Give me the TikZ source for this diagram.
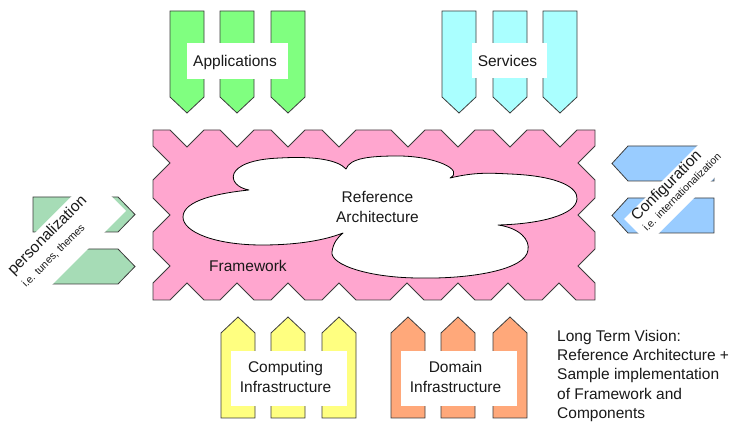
\documentclass[tikz,border=0pt]{standalone}
\usepackage{fontspec}
\setmainfont{Liberation Sans}
\definecolor{framepink}{RGB}{255,166,207}
\definecolor{appgreen}{RGB}{128,255,128}
\definecolor{servcyan}{RGB}{170,255,255}
\definecolor{compyellow}{RGB}{255,255,128}
\definecolor{domorange}{RGB}{255,168,122}
\definecolor{persgreen}{RGB}{166,220,182}
\definecolor{confblue}{RGB}{153,204,255}
\definecolor{edgegray}{RGB}{60,60,60}
\tikzset{
  outl/.style={draw=edgegray, line width=0.8pt, line join=miter},
  cloudline/.style={draw=black, line width=0.8pt, line join=round},
  lbl/.style={font=\fontsize{15.5}{20}\selectfont, inner sep=0pt, text=black!90},
  smalltxt/.style={font=\fontsize{10.5}{12}\selectfont, inner sep=0pt, text=black!90},
  labelbox/.style={fill=white, draw=none, inner sep=0pt},
}
\begin{document}
\begin{tikzpicture}[x=1pt, y=-1pt]
\useasboundingbox (0,0) rectangle (732,427);

% ---------- Framework (pink zig-zag block) ----------
\draw[outl, fill=framepink]
  (153,130) -- (170,130) -- (187,147) -- (204,130) -- (220,130) -- (237,147) -- (254,130)
  -- (271,130) -- (288,147) -- (305,130) -- (322,130) -- (339,147) -- (356,130)
  -- (391,130) -- (408,147) -- (425,130) -- (441,130) -- (458,147) -- (475,130)
  -- (493,130) -- (510,147) -- (527,130) -- (543,130) -- (560,147) -- (577,130) -- (595,130)
  -- (595,146) -- (578,163) -- (595,180) -- (595,198) -- (578,215) -- (595,232)
  -- (595,249) -- (578,266) -- (595,283) -- (595,300)
  -- (576,300) -- (559,283) -- (542,300) -- (525,300) -- (508,283) -- (491,300)
  -- (475,300) -- (458,283) -- (441,300) -- (424,300) -- (407,283) -- (390,300)
  -- (356,300) -- (339,283) -- (322,300) -- (305,300) -- (288,283) -- (271,300)
  -- (254,300) -- (237,283) -- (220,300) -- (204,300) -- (187,283) -- (170,300) -- (153,300)
  -- (153,283) -- (170,266) -- (153,249) -- (153,232) -- (170,215) -- (153,198)
  -- (153,180) -- (170,163) -- (153,146) -- cycle;

% ---------- Reference architecture cloud ----------
\draw[cloudline, fill=white] (249,190)
  .. controls (226,186) and (222,160) .. (280,158)
  .. controls (315,156) and (338,160) .. (346,169)
  .. controls (350,158) and (370,156) .. (398,156)
  .. controls (435,156) and (465,170) .. (450,178)
  .. controls (475,172) and (490,173) .. (510,174)
  .. controls (560,176) and (578,188) .. (577,199)
  .. controls (576,215) and (540,224) .. (498,225)
  .. controls (520,228) and (530,240) .. (528,250)
  .. controls (526,270) and (470,279) .. (420,278)
  .. controls (370,278) and (330,265) .. (332,252)
  .. controls (333,243) and (338,237) .. (343,233)
  .. controls (320,242) and (290,245) .. (262,245)
  .. controls (215,245) and (183,232) .. (183,217)
  .. controls (183,200) and (220,193) .. (249,190) -- cycle;
\node[lbl, anchor=base] (ref1) at (377.5,203) {Reference};
\node[lbl, anchor=base] (ref2) at (377.5,223) {Architecture};
\node[lbl, anchor=base] (fw) at (248,272) {Framework};

% ---------- Applications (top, green) ----------
\foreach \L in {170,220,271}
  \draw[outl, fill=appgreen] (\L,11) -- ++(34,0) -- ++(0,86) -- ++(-17,16) -- ++(-17,-16) -- cycle;
\node[labelbox, minimum width=101.6pt, minimum height=36pt] (appbox) at (237.5,61) {};
\node[lbl, anchor=base] (app) at (235,67) {Applications};

% ---------- Services (top, cyan) ----------
\foreach \L in {442,493,543}
  \draw[outl, fill=servcyan] (\L,11) -- ++(34,0) -- ++(0,86) -- ++(-17,16) -- ++(-17,-16) -- cycle;
\node[labelbox, minimum width=75pt, minimum height=35pt] (servbox) at (509.2,60.5) {};
\node[lbl, anchor=base] (serv) at (507.5,67) {Services};

% ---------- Computing infrastructure (bottom, yellow) ----------
\foreach \L in {221,271,322}
  \draw[outl, fill=compyellow] (\L,418) -- ++(0,-85) -- ++(17,-16) -- ++(17,16) -- ++(0,85) -- cycle;
\node[labelbox, minimum width=115.7pt, minimum height=54.7pt] (compbox) at (288.8,378.3) {};
\node[lbl, anchor=base] (comp1) at (285.5,373) {Computing};
\node[lbl, anchor=base] (comp2) at (285.5,393) {Infrastructure};

% ---------- Domain infrastructure (bottom, orange) ----------
\foreach \L in {391,441,493}
  \draw[outl, fill=domorange] (\L,418) -- ++(0,-85) -- ++(17,-16) -- ++(17,16) -- ++(0,85) -- cycle;
\node[labelbox, minimum width=115.7pt, minimum height=54.7pt] (dombox) at (458.8,378.3) {};
\node[lbl, anchor=base] (dom1) at (455.5,373) {Domain};
\node[lbl, anchor=base] (dom2) at (455.5,393) {Infrastructure};

% ---------- Personalization (left, green) ----------
\foreach \T in {197,249}
  \draw[outl, fill=persgreen] (33,\T) -- ++(85,0) -- ++(17,17.5) -- ++(-17,17.5) -- ++(-85,0) -- cycle;
\fill[white] (91.5,176.5) -- (126,211) -- (8.5,328.5) -- (-26,294) -- cycle;
\node[lbl, anchor=base west, rotate=45] (pers) at (13.5,275.5) {personalization};
\node[smalltxt, anchor=base west, rotate=45] (persnote) at (26,288) {i.e. tunes, themes};

% ---------- Configuration (right, blue) ----------
\foreach \T in {146,198}
  \draw[outl, fill=confblue] (714,\T) -- ++(-86,0) -- ++(-16,17.5) -- ++(16,17.5) -- ++(86,0) -- cycle;
\fill[white] (624,219) -- (648.5,243.5) -- (796,96) -- (771.5,71.5) -- cycle;
\node[lbl, anchor=base west, rotate=45] (conf) at (637,222) {Configuration};
\node[smalltxt, anchor=base west, rotate=45] (confnote) at (647,232) {i.e. internationalization};

% ---------- Vision note ----------
\node[lbl, anchor=north west, align=left, font=\fontsize{15.5}{19.3}\selectfont] (vision) at (557,329.8)
  {Long Term Vision:\\Reference Architecture +\\Sample implementation\\of Framework and\\Components};
\end{tikzpicture}
\end{document}
